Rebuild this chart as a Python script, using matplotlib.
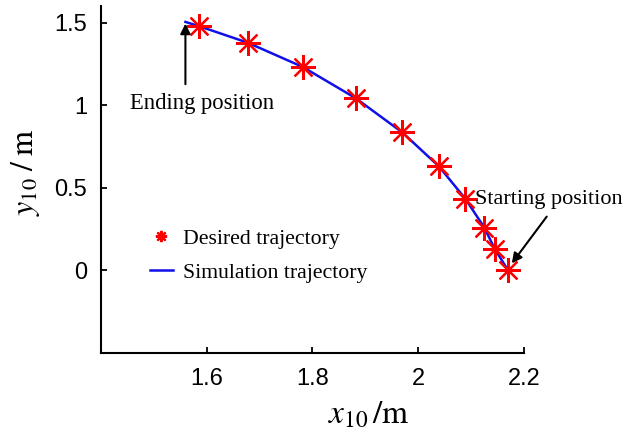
import matplotlib

matplotlib.use("Agg")
import matplotlib.pyplot as plt

# desired trajectory points
desired_x = [1.586, 1.678, 1.782, 1.882, 1.970, 2.039, 2.089, 2.125, 2.145, 2.170]
desired_y = [1.478, 1.378, 1.231, 1.042, 0.835, 0.630, 0.434, 0.259, 0.128, 0.000]

# simulation trajectory, runs a little past the last desired point
sim_x = [1.560, 1.586, 1.678, 1.782, 1.882, 1.970, 2.039, 2.089, 2.125, 2.145, 2.170]
sim_y = [1.504, 1.478, 1.378, 1.231, 1.042, 0.835, 0.630, 0.434, 0.259, 0.128, 0.000]

x_ticks = [1.6, 1.8, 2.0, 2.2]
x_tick_labels = ["1.6", "1.8", "2", "2.2"]
y_ticks = [0, 0.5, 1, 1.5]
y_tick_labels = ["0", "0.5", "1", "1.5"]

plt.rcParams["mathtext.fontset"] = "stix"

fig = plt.figure(figsize=(6.26, 4.33), dpi=100)
ax = fig.add_axes([0.161, 0.185, 0.676, 0.801])

ax.plot(sim_x, sim_y, color="#1010e8", linewidth=1.8, label="Simulation trajectory", zorder=2)
ax.plot(desired_x, desired_y, linestyle="none", marker=(8, 2, 0), markersize=18,
        markeredgecolor="red", markeredgewidth=1.6, color="red",
        label="Desired trajectory", zorder=3)

ax.set_xlim(1.4, 2.2)
ax.set_ylim(-0.5, 1.6)
ax.set_xticks(x_ticks)
ax.set_xticklabels(x_tick_labels)
ax.set_yticks(y_ticks)
ax.set_yticklabels(y_tick_labels)

# only left/bottom axis lines, ticks pointing inwards
for side in ["top", "right"]:
    ax.spines[side].set_visible(False)
for side in ["left", "bottom"]:
    ax.spines[side].set_linewidth(1.5)
ax.tick_params(direction="in", length=4, width=1.3, labelsize=17)
ax.tick_params(axis="x", pad=11)
ax.tick_params(axis="y", pad=10)
for lab in ax.get_xticklabels() + ax.get_yticklabels():
    lab.set_fontfamily("Liberation Sans")

ax.set_xlabel(r"$x_{10}\,/\mathrm{m}$", fontsize=24)
ax.xaxis.set_label_coords(0.634, -0.128)
ax.set_ylabel(r"$y_{10}\;/\;\mathrm{m}$", fontsize=23)
ax.yaxis.set_label_coords(-0.138, 0.52)

# annotations
arrow = dict(arrowstyle="-|>", color="black", lw=1.5, mutation_scale=15,
             shrinkA=0, shrinkB=0)
ax.annotate("", xy=(1.560, 1.494), xytext=(1.560, 1.127), arrowprops=arrow)
ax.text(1.455, 1.01, "Ending position", fontsize=16.3, family="Liberation Serif",
        va="center", ha="left")
ax.annotate("", xy=(2.177, 0.042), xytext=(2.243, 0.325), arrowprops=arrow,
            annotation_clip=False)
ax.text(2.107, 0.43, "Starting position", fontsize=16, family="Liberation Serif",
        va="center", ha="left", clip_on=False)

ax.legend(handles=ax.get_lines()[::-1], loc="center left",
          bbox_to_anchor=(0.069, 0.28), frameon=False, markerscale=0.45,
          prop={"family": "Liberation Serif", "size": 15.7},
          handlelength=1.05, handletextpad=0.5, labelspacing=0.62)

fig.savefig("out.png", dpi=100)
plt.close(fig)
